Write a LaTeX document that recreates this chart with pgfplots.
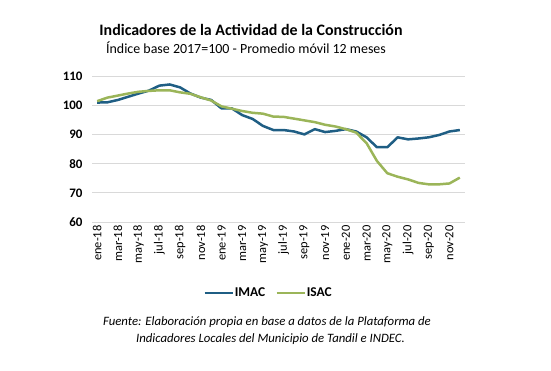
\documentclass[border=0pt]{standalone}
\usepackage{pgfplots}
\pgfplotsset{compat=1.18}
\usepackage{pgfplotstable}
\usepackage{fontspec}
\setmainfont{Carlito}
\definecolor{imac}{RGB}{31,94,132}
\definecolor{isac}{RGB}{155,181,89}
\definecolor{gridc}{RGB}{217,217,217}
\pgfplotstableread{
i imac isac
0 100.9 101.4
1 101.0 102.6
2 101.8 103.3
3 102.9 104.0
4 104.0 104.6
5 105.0 104.9
6 106.7 105.1
7 107.1 105.1
8 106.1 104.4
9 104.0 103.9
10 102.6 102.7
11 101.8 101.6
12 98.9 99.6
13 98.9 98.8
14 96.6 98.0
15 95.3 97.4
16 92.9 97.1
17 91.5 96.1
18 91.5 96.0
19 91.0 95.4
20 90.0 94.8
21 91.8 94.2
22 90.8 93.3
23 91.2 92.7
24 91.8 91.8
25 91.0 90.6
26 89.0 87.0
27 85.6 80.9
28 85.6 76.7
29 89.0 75.5
30 88.3 74.6
31 88.6 73.4
32 89.0 72.9
33 89.8 72.9
34 91.0 73.2
35 91.5 75.2
}\data
\begin{document}
\begin{tikzpicture}[x=1bp,y=1bp]
\path[use as bounding box] (0,0) rectangle (551,370);
\node[font=\fontsize{16}{19}\selectfont\bfseries] at (251,340) {Indicadores de la Actividad de la Construcción};
\node[font=\fontsize{14}{17}\selectfont] at (246,322) {Índice base 2017=100 - Promedio móvil 12 meses};
\begin{axis}[at={(92bp,148bp)}, anchor=south west, scale only axis,
  width=373bp, height=146bp,
  xmin=-0.5, xmax=35.5, ymin=60, ymax=110,
  ytick={60,70,...,110},
  xtick={0,2,...,34},
  xticklabels={ene-18,mar-18,may-18,jul-18,sep-18,nov-18,ene-19,mar-19,may-19,jul-19,sep-19,nov-19,ene-20,mar-20,may-20,jul-20,sep-20,nov-20},
  axis line style={draw=none},
  major tick length=0pt,
  ymajorgrids, grid style={gridc, line width=0.8bp},
  /pgf/number format/assume math mode=true,
  yticklabel style={font=\fontsize{13}{15}\selectfont\bfseries, xshift=-6bp},
  xticklabel style={font=\fontsize{12.5}{14}\selectfont, rotate=90, anchor=east, yshift=0bp},
  legend columns=2,
  legend style={at={(0.472,-0.486)}, anchor=center, draw=none, fill=none,
    font=\fontsize{13.5}{15}\selectfont\bfseries, column sep=0bp,
    /tikz/every even column/.append style={column sep=9bp},
    nodes={inner sep=1bp}},
  legend image code/.code={\draw[#1, line width=2.5bp] (0,0) -- (28bp,0);},
  clip=false,
]
\addplot[imac, line width=2.5bp, line join=round] table[x=i, y=imac] {\data};
\addlegendentry{IMAC}
\addplot[isac, line width=2.5bp, line join=round] table[x=i, y=isac] {\data};
\addlegendentry{ISAC}
\end{axis}
\node[font=\fontsize{12.8}{15}\selectfont\itshape] at (267,48) {Fuente: Elaboración propia en base a datos de la Plataforma de};
\node[font=\fontsize{12.8}{15}\selectfont\itshape] at (270.5,31) {Indicadores Locales del Municipio de Tandil e INDEC.};
\end{tikzpicture}
\end{document}
